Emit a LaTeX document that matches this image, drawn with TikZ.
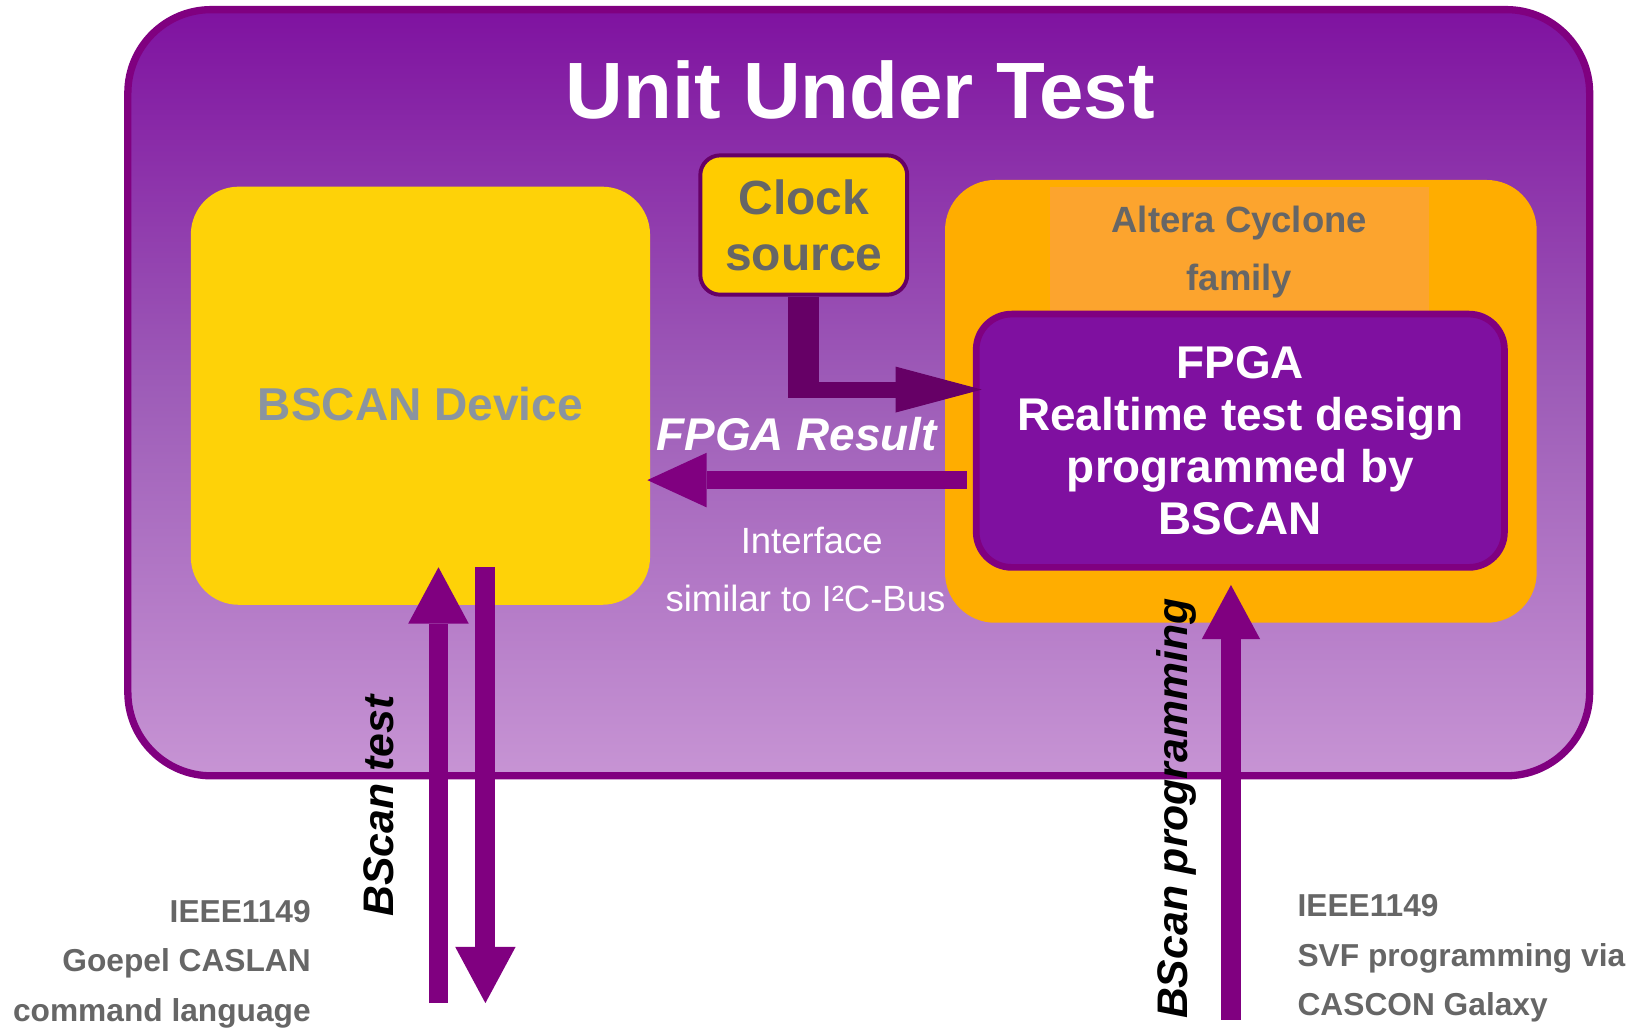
\documentclass[tikz,border=0pt]{standalone}
\usepackage{fontspec}
\setmainfont{Liberation Sans}
\usetikzlibrary{arrows.meta,calc}

\definecolor{uutborder}{HTML}{800080}
\definecolor{uuttop}{HTML}{7F12A0}
\definecolor{uutmid}{HTML}{9E5DB8}
\definecolor{uutbottom}{HTML}{C794D4}
\definecolor{bscanyellow}{HTML}{FED208}
\definecolor{bscantext}{HTML}{8A94A0}
\definecolor{clockfill}{HTML}{FFCC00}
\definecolor{clockline}{HTML}{660066}
\definecolor{chiporange}{HTML}{FFAD00}
\definecolor{familyorange}{HTML}{FCA42E}
\definecolor{fpgafill}{HTML}{7F10A0}
\definecolor{labelgray}{HTML}{666666}
\definecolor{busviolet}{HTML}{800080}

\begin{document}
\begin{tikzpicture}[
  x=0.5pt, y=-0.5pt,
  textonly/.style={inner sep=0pt},
  graynote/.style={textonly, text=labelgray, font=\fontsize{15.2}{23.75}\selectfont\bfseries},
  sidelabel/.style={rotate=90, anchor=base, font=\fontsize{20.5}{24}\selectfont\bfseries\itshape},
  vbus/.style={busviolet, line width=9.5pt},
]
\useasboundingbox (0,0) rectangle (1568,987);

% unit under test frame
\node[draw=uutborder, line width=3.5pt, top color=uuttop, bottom color=uutbottom,
      middle color=uutmid, rounded corners=40pt, minimum width=700.95pt,
      minimum height=367.4pt, inner sep=0pt] (uut) at (823.55,376.6) {};
\node[anchor=base, text=white, font=\fontsize{38.3}{40}\selectfont\bfseries] (title)
      at (825,114) {Unit Under Test};

% boundary scan device
\node[fill=bscanyellow, rounded corners=23pt, minimum width=220.2pt, minimum height=200.5pt,
      inner sep=0pt, text=bscantext, font=\fontsize{22.1}{26}\selectfont\bfseries,
      text height=23.75pt] (bscan) at (403.2,379.5) {BSCAN Device};

% clock source
\node[fill=clockfill, draw=clockline, line width=1.9pt, rounded corners=9.5pt,
      minimum width=99.2pt, minimum height=66.8pt, inner sep=0pt, align=center,
      text=labelgray, font=\fontsize{23}{26.7}\selectfont\bfseries] (clock)
      at (770.8,215.8) {Clock\\source};

% FPGA chip
\node[fill=chiporange, rounded corners=24pt, minimum width=283.7pt, minimum height=212.3pt,
      inner sep=0pt] (chip) at (1190,384.9) {};
\node[fill=familyorange, minimum width=181.5pt, minimum height=62.5pt, inner sep=0pt,
      align=center, text=labelgray, font=\fontsize{17.5}{27.85}\selectfont\bfseries] (family)
      at (1188.5,241.5) {Altera Cyclone\\family};
\node[fill=fpgafill, draw=uutborder, line width=3.2pt, rounded corners=17pt,
      minimum width=253.3pt, minimum height=121.45pt, inner sep=0pt, align=center,
      text=white, font=\fontsize{22}{24.8}\selectfont\bfseries] (fpga)
      at (1189.5,422.65) {FPGA\\Realtime test design\\programmed by\\BSCAN};

% clock feed into the FPGA
\coordinate (clktip) at (941.5,373.6);
\coordinate (clkbend) at (clock.south |- clktip);
\draw[clockline, line width=14.7pt] (clock.south) -- ($(clkbend)+(0,7.65)$);
\draw[clockline, line width=7.65pt, -{Triangle[length=41.25pt,width=22pt,line width=0pt]}]
      (clkbend) -- (clktip);

% result path back to the BSCAN device
\coordinate (resrow) at (0,460.4);
\draw[busviolet, line width=8.65pt, -{Triangle[length=28.45pt,width=26.2pt,line width=0pt]}]
      ($(fpga.west |- resrow)+(-6,0)$) -- ($(bscan.east |- resrow)+(-3,0)$);
\node[anchor=base, text=white, font=\fontsize{22}{26}\selectfont\bfseries\itshape] (resultlabel)
      at (764.2,431.6) {FPGA Result};
\node[textonly, align=center, text=white, font=\fontsize{17.5}{27.5}\selectfont] (buslabel)
      at (772.5,546) {\hspace*{6pt}Interface\\similar to I²C-Bus};

% boundary scan test access
\coordinate (tstupfoot) at (420.5,962);
\coordinate (tstuphead) at (420.5,544);
\coordinate (tstdowntop) at (465.5,544);
\coordinate (tstdownfoot) at (465.5,962);
\draw[vbus, -{Triangle[length=27pt,width=29pt,line width=0pt]}] (tstupfoot) -- (tstuphead);
\draw[vbus, -{Triangle[length=27pt,width=29pt,line width=0pt]}] (tstdowntop) -- (tstdownfoot);
\node[sidelabel] (testlabel) at (377.2,773) {BScan test};

% boundary scan programming access
\coordinate (progfoot) at (1180.5,978);
\coordinate (proghead) at (1180.5,561);
\draw[vbus, -{Triangle[length=26pt,width=28pt,line width=0pt]}] (progfoot) -- (proghead);
\node[sidelabel] (proglabel) at (1138.8,775.5) {BScan programming};

% tool notes
\node[graynote, anchor=east, align=right] (caslan) at (298.4,924.35)
      {IEEE1149\\Goepel CASLAN\\command language};
\node[graynote, anchor=west, align=left] (svf) at (1244,919.15)
      {IEEE1149\\SVF programming via\\CASCON Galaxy};
\end{tikzpicture}
\end{document}
